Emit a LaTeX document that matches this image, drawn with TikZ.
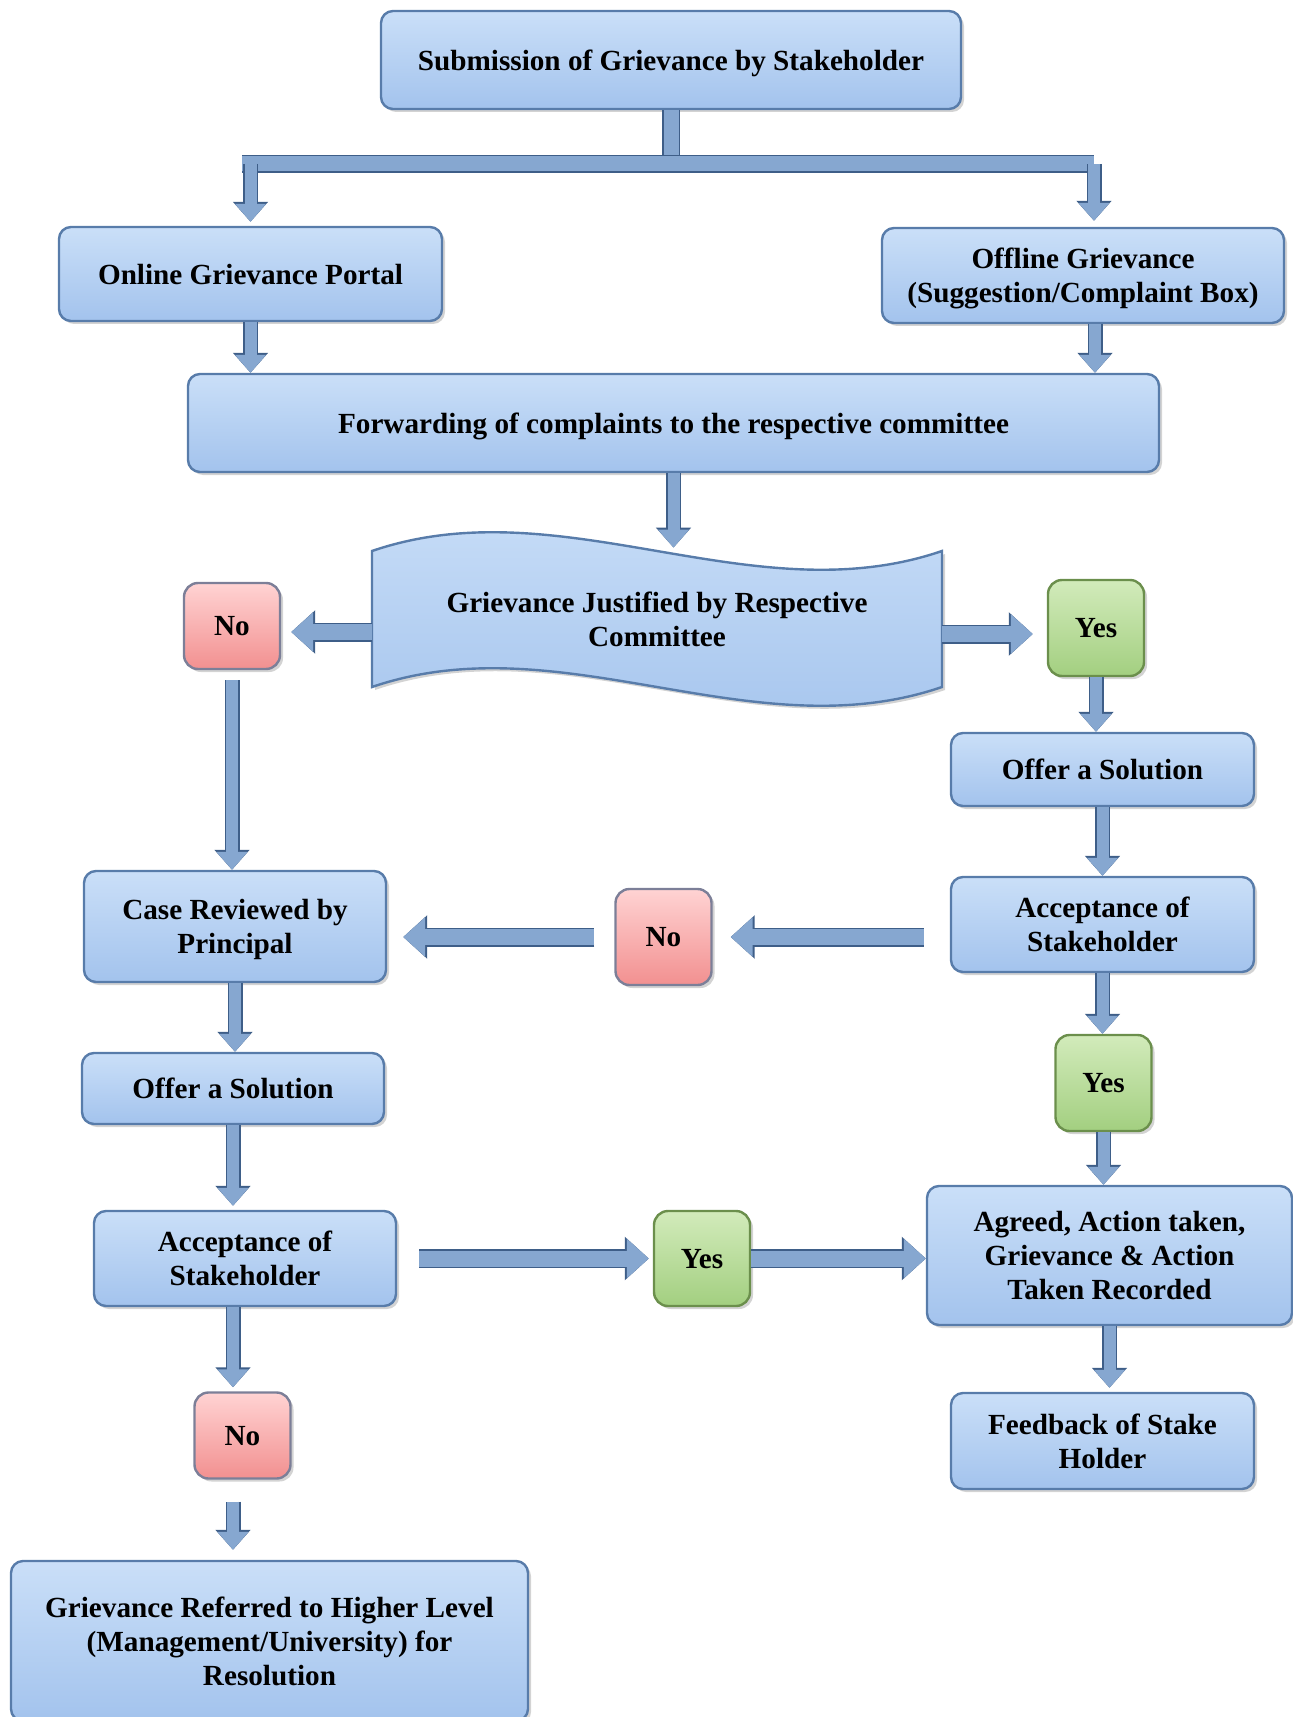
\documentclass[tikz,border=0pt]{standalone}
\usepackage{fontspec}
\setmainfont{Liberation Serif}
\usetikzlibrary{arrows.meta,shadows}
\definecolor{boxtop}{HTML}{CADFF8}
\definecolor{boxbot}{HTML}{A3C3ED}
\definecolor{boxline}{HTML}{587CAA}
\definecolor{notop}{HTML}{FFD3D3}
\definecolor{nobot}{HTML}{F29090}
\definecolor{noline}{HTML}{7C7F98}
\definecolor{yestop}{HTML}{D2EBBB}
\definecolor{yesbot}{HTML}{A3CF80}
\definecolor{yesline}{HTML}{6B8F4C}
\definecolor{arrowfill}{HTML}{86A7D0}
\definecolor{arrowedge}{HTML}{3E5E88}
\tikzset{box/.style={draw=boxline,line width=1.2pt,top color=boxtop,bottom color=boxbot,
  rounded corners=6pt,align=center,inner sep=2pt,text depth=0pt,
  font=\fontsize{14.6}{17}\selectfont\bfseries,
  drop shadow={shadow xshift=1.5pt,shadow yshift=-1.5pt,opacity=.35}},
nobox/.style={box,draw=noline,top color=notop,bottom color=nobot,rounded corners=7pt,
  minimum width=48pt,minimum height=43pt},
yesbox/.style={box,draw=yesline,top color=yestop,bottom color=yesbot,rounded corners=7pt,
  minimum width=48pt,minimum height=48pt},
shaft/.style={line width=7.5pt,draw=arrowfill,preaction={draw=arrowedge,line width=9pt}},
flow/.style={line width=6pt,draw=arrowfill,-{Triangle[length=9pt,width=15pt]},
  preaction={draw=arrowedge,line width=7.5pt,-{Triangle[length=10pt,width=17pt]}}},
wide/.style={line width=8pt,draw=arrowfill,-{Triangle[length=11pt,width=19pt]},
  preaction={draw=arrowedge,line width=9.5pt,-{Triangle[length=12pt,width=21pt]}}}}
\begin{document}
\begin{tikzpicture}[x=.5pt,y=-.5pt]
\useasboundingbox (0,0) rectangle (1293,1717);
% top of the chart
\node[box,minimum width=290pt,minimum height=49pt] (sub) at (671,60)
  {Submission of Grievance by Stakeholder};
\node[box,minimum width=191.5pt,minimum height=47pt] (onl) at (250.5,274)
  {Online Grievance Portal};
\node[box,minimum width=201pt,minimum height=47.5pt] (off) at (1083,275.5)
  {Offline Grievance\\(Suggestion/Complaint Box)};
\node[box,minimum width=485.5pt,minimum height=49pt] (fwd) at (673.5,423)
  {Forwarding of complaints to the respective committee};
\coordinate (spl) at (671,164);
\coordinate (splL) at (242,164);
\coordinate (splR) at (1094,164);
% wave
\draw[draw=boxline,line width=1.2pt,top color=boxtop,bottom color=boxbot,
  drop shadow={shadow xshift=1.5pt,shadow yshift=-1.5pt,opacity=.35}]
  (372,551) .. controls (562,486) and (752,616) .. (942,551) -- (942,687)
  .. controls (752,752) and (562,622) .. (372,687) -- cycle;
\node[align=center,inner sep=0,minimum width=285pt,minimum height=71pt,text depth=0pt,
  font=\fontsize{14.6}{17}\selectfont\bfseries] (wav) at (657,619)
  {Grievance Justified by Respective\\Committee};
\node[nobox] (no1) at (232,626) {No};
\node[yesbox] (yes1) at (1096,628) {Yes};
% right column
\node[box,minimum width=151.5pt,minimum height=36.5pt] (offR) at (1102.5,769.5)
  {Offer a Solution};
\node[box,minimum width=151.5pt,minimum height=47.5pt] (accR) at (1102.5,924.5)
  {Acceptance of\\Stakeholder};
\node[yesbox] (yes2) at (1103.5,1083) {Yes};
\node[box,minimum width=182.5pt,minimum height=69.5pt] (agr) at (1109.5,1255.5)
  {Agreed, Action taken,\\Grievance \& Action\\Taken Recorded};
\node[box,minimum width=151.5pt,minimum height=48pt] (fbk) at (1102.5,1441)
  {Feedback of Stake\\Holder};
% left column
\node[box,minimum width=151pt,minimum height=55.5pt] (case) at (235,926.5)
  {Case Reviewed by\\Principal};
\node[nobox,minimum height=48pt] (no2) at (663.5,937) {No};
\node[box,minimum width=151pt,minimum height=35.5pt] (offL) at (233,1088.5)
  {Offer a Solution};
\node[box,minimum width=151pt,minimum height=47.5pt] (accL) at (245,1258.5)
  {Acceptance of\\Stakeholder};
\node[yesbox,minimum height=47.5pt] (yes3) at (702,1258.5) {Yes};
\node[nobox] (no3) at (242.5,1435.5) {No};
\node[box,minimum width=258.5pt,minimum height=80pt] (hig) at (269.5,1641)
  {Grievance Referred to Higher Level\\(Management/University) for\\Resolution};
% connectors
\draw[shaft] (sub.south) -- (spl);
\draw[shaft] (splL) -- (splR);
\draw[flow] (onl.north |- splL) -- ([yshift=2pt]onl.north);
\draw[flow] (splR) -- ([yshift=3pt]splR |- off.north);
\draw[flow] (onl.south) -- (onl.south |- fwd.north);
\draw[flow] ([xshift=6pt]off.south) -- ([xshift=6pt]off.south |- fwd.north);
\draw[flow] (fwd.south) -- (fwd.south |- wav.north);
\draw[wide,shorten >=5pt] ([yshift=-3pt]wav.west |- no1) -- ([yshift=-3pt]no1.east);
\draw[wide,shorten >=7pt] ([yshift=-3pt]wav.east |- yes1) -- ([yshift=-3pt]yes1.west);
\draw[flow] (yes1.south) -- (yes1.south |- offR.north);
\draw[flow] (offR.south) -- (offR.south |- accR.north);
\draw[flow] (accR.south) -- (accR.south |- yes2.north);
\draw[flow] (yes2.south) -- (yes2.south |- agr.north);
\draw[flow,shorten >=2pt] (agr.south) -- (agr.south |- fbk.north);
\draw[flow,shorten <=5pt] (no1.south) -- (no1.south |- case.north);
\draw[wide,shorten <=13pt,shorten >=9pt] (accR.west |- no2) -- (no2.east);
\draw[wide,shorten <=10pt,shorten >=8pt] (no2.west) -- (no2.west -| case.east);
\draw[flow] (case.south) -- (case.south |- offL.north);
\draw[flow,shorten >=2pt] (offL.south) -- (offL.south |- accL.north);
\draw[wide,shorten <=11pt,shorten >=2pt] (accL.east |- yes3) -- (yes3.west);
\draw[wide] (yes3.east) -- (yes3.east -| agr.west);
\draw[flow,shorten >=2pt] (offL.south |- accL.south) -- (offL.south |- no3.north);
\draw[flow,shorten <=11pt,shorten >=5pt] (offL.south |- no3.south) -- (offL.south |- hig.north);
\end{tikzpicture}
\end{document}
